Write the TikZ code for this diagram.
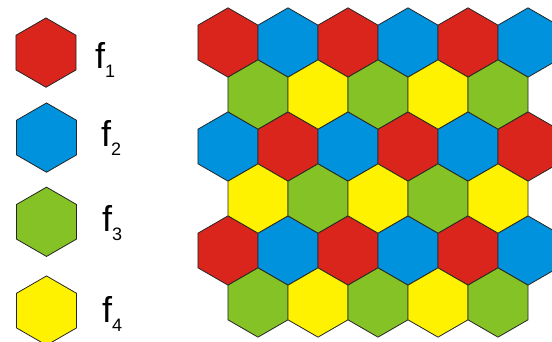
\documentclass[tikz,border=0pt]{standalone}
\usepackage{fontspec}
\setmainfont{Liberation Sans}
\usetikzlibrary{shapes.geometric,positioning}
\definecolor{hexred}{RGB}{218,37,29}
\definecolor{hexblue}{RGB}{0,146,221}
\definecolor{hexgreen}{RGB}{132,194,37}
\definecolor{hexyellow}{RGB}{255,242,0}
\newcommand{\fsub}[1]{f\raisebox{-9pt}{\fontsize{18}{18}\selectfont #1}}

\begin{document}
\begin{tikzpicture}[
  x=1pt, y=-1pt,
  hexcell/.style={regular polygon, regular polygon sides=6, shape border rotate=30,
    minimum size=69.3pt, inner sep=0pt, draw=black!85, line width=0.8pt},
  flabel/.style={anchor=base west, inner sep=0pt, font=\fontsize{36}{36}\selectfont},
]
  \useasboundingbox (0,0) rectangle (552,342);
  \clip (0,0) rectangle (552,342);

  % legend
  \node[hexcell, fill=hexred] (key1) at (46,52.6) {};
  \node[hexcell, fill=hexblue] (key2) at (46.5,137.6) {};
  \node[hexcell, fill=hexgreen] (key3) at (46.5,221.8) {};
  \node[hexcell, fill=hexyellow] (key4) at (46.5,310.6) {};
  \node[flabel] (lab1) at (95,68.5) {\fsub{1}};
  \node[flabel] (lab2) at (101,147) {\fsub{2}};
  \node[flabel] (lab3) at (102,232) {\fsub{3}};
  \node[flabel] (lab4) at (102,322) {\fsub{4}};

  % rows with six cells
  \foreach \i/\ca/\cb in {0/hexred/hexblue, 2/hexblue/hexred, 4/hexred/hexblue}
    \foreach \j in {0,...,5} {
      \ifodd\j \def\c{\cb}\else\def\c{\ca}\fi
      \node[hexcell, fill=\c] (h-\i-\j) at ({228+60*\j},{42.5+52*\i}) {};
    }
  % rows with five cells
  \foreach \i/\ca/\cb in {1/hexgreen/hexyellow, 3/hexyellow/hexgreen, 5/hexgreen/hexyellow}
    \foreach \j in {0,...,4} {
      \ifodd\j \def\c{\cb}\else\def\c{\ca}\fi
      \node[hexcell, fill=\c] (h-\i-\j) at ({258+60*\j},{42.5+52*\i}) {};
    }
\end{tikzpicture}
\end{document}
